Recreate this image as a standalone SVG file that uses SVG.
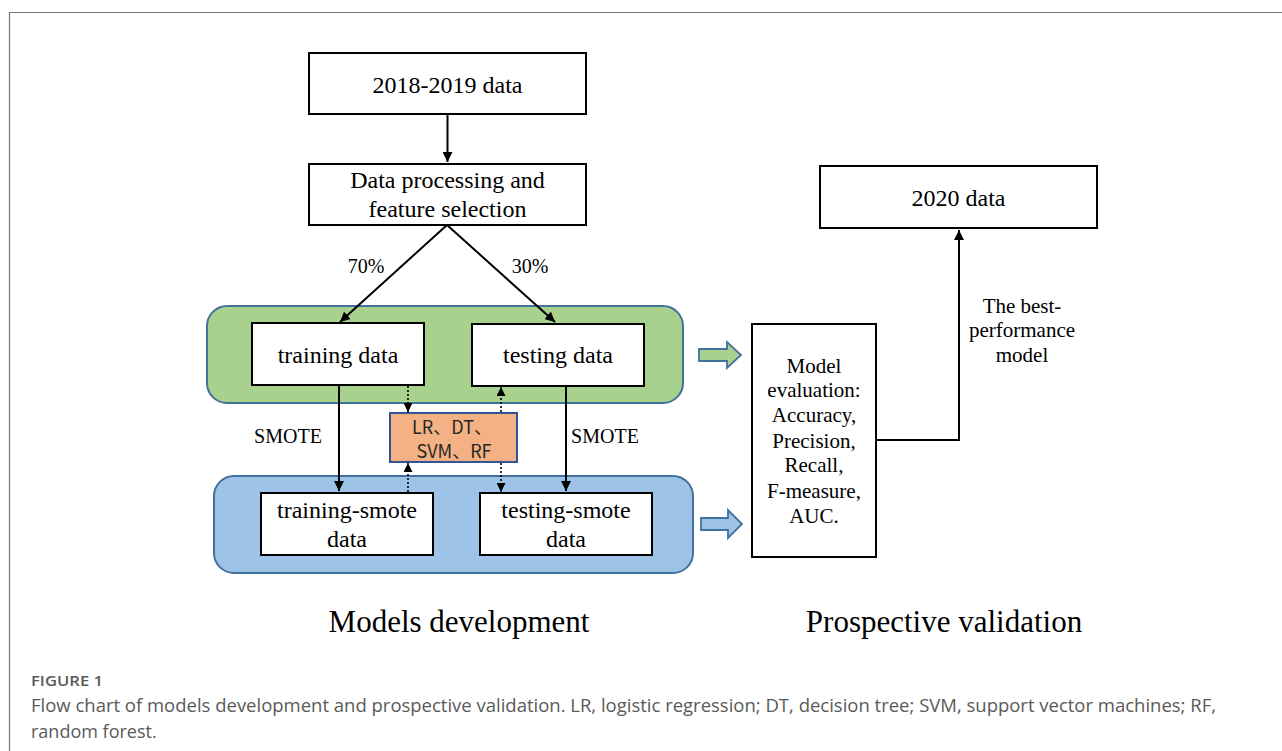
<svg xmlns="http://www.w3.org/2000/svg" width="1282" height="751" viewBox="0 0 1282 751">
  <style>
    .box { fill: #ffffff; stroke: #000000; stroke-width: 2; }
    .serif { font-family: "Liberation Serif", "Times New Roman", serif; fill: #000000; text-anchor: middle; }
    .t24 { font-size: 24px; }
    .t21 { font-size: 21px; }
    .t20 { font-size: 20px; }
    .title { font-size: 31px; }
    .line { stroke: #000000; stroke-width: 2; fill: none; }
    .dot { stroke: #000000; stroke-width: 1.6; fill: none; stroke-dasharray: 2 2; }
    .cap { font-family: "Open Sans", "Noto Sans", sans-serif; fill: #5a5a5a; }
  </style>
  <defs>
    <marker id="ah" viewBox="0 0 10 10" refX="10" refY="5" markerWidth="10" markerHeight="10" markerUnits="userSpaceOnUse" orient="auto">
      <path d="M0,0 L10,5 L0,10 z" fill="#000000"/>
    </marker>
    <marker id="ahs" viewBox="0 0 10 10" refX="10" refY="5" markerWidth="9" markerHeight="9" markerUnits="userSpaceOnUse" orient="auto">
      <path d="M0,0 L10,5 L0,10 z" fill="#000000"/>
    </marker>
  </defs>

  <rect x="0" y="0" width="1282" height="751" fill="#ffffff"/>
  <!-- page frame -->
  <path d="M9.5,751 L9.5,12.5 L1282,12.5" fill="none" stroke="#777777" stroke-width="1.2"/>

  <!-- group backgrounds -->
  <g id="training-group">
    <rect x="207" y="306" width="476" height="97" rx="20" ry="20" fill="#a9d18e" stroke="#41719c" stroke-width="2"/>
  </g>
  <g id="smote-group">
    <rect x="214" y="476" width="479" height="97" rx="20" ry="20" fill="#9dc3e6" stroke="#41719c" stroke-width="2"/>
  </g>

  <g id="data-2018-2019">
    <rect class="box" x="309" y="53" width="277" height="61"/>
    <text class="serif t24" x="447.5" y="93">2018-2019 data</text>
  </g>

  <g id="processing">
    <rect class="box" x="309" y="164" width="277" height="61"/>
    <text class="serif t24" x="447.5" y="188">Data processing and</text>
    <text class="serif t24" x="447.5" y="217">feature selection</text>
  </g>

  <g id="training-data">
    <rect class="box" x="252" y="323" width="172" height="62"/>
    <text class="serif t24" x="338" y="363">training data</text>
  </g>

  <g id="testing-data">
    <rect class="box" x="472" y="324" width="172" height="62"/>
    <text class="serif t24" x="558" y="363">testing data</text>
  </g>

  <g id="training-smote">
    <rect class="box" x="261" y="493" width="172" height="62"/>
    <text class="serif t24" x="347" y="518">training-smote</text>
    <text class="serif t24" x="347" y="547">data</text>
  </g>

  <g id="testing-smote">
    <rect class="box" x="480" y="493" width="172" height="62"/>
    <text class="serif t24" x="566" y="518">testing-smote</text>
    <text class="serif t24" x="566" y="547">data</text>
  </g>

  <g id="models">
    <rect x="390" y="413" width="127" height="49" fill="#f4b183" stroke="#2f5597" stroke-width="2"/>
    <text x="452" y="434" font-family="'Noto Sans CJK SC', 'Noto Sans', sans-serif" font-size="18" fill="#262626" text-anchor="middle">LR、DT、</text>
    <text x="454" y="458" font-family="'Noto Sans CJK SC', 'Noto Sans', sans-serif" font-size="18" fill="#262626" text-anchor="middle">SVM、RF</text>
  </g>

  <g id="evaluation">
    <rect class="box" x="752" y="324" width="124" height="233"/>
    <text class="serif t21" x="814" y="373">Model</text>
    <text class="serif t21" x="814" y="397">evaluation:</text>
    <text class="serif t21" x="814" y="422">Accuracy,</text>
    <text class="serif t21" x="814" y="448">Precision,</text>
    <text class="serif t21" x="814" y="472">Recall,</text>
    <text class="serif t21" x="814" y="498">F-measure,</text>
    <text class="serif t21" x="814" y="523">AUC.</text>
  </g>

  <g id="data-2020">
    <rect class="box" x="820" y="166" width="277" height="62"/>
    <text class="serif t24" x="958.5" y="206">2020 data</text>
  </g>

  <!-- block arrows into the evaluation step -->
  <g id="block-arrows">
    <path d="M699,349 L727,349 L727,342 L741,355 L727,368 L727,361 L699,361 Z" fill="#a9d18e" stroke="#41719c" stroke-width="1.8"/>
    <path d="M701,518 L728,518 L728,510 L742,524 L728,538 L728,530 L701,530 Z" fill="#9dc3e6" stroke="#41719c" stroke-width="1.8"/>
  </g>

  <g id="connectors">
    <line class="line" x1="447.5" y1="114" x2="447.5" y2="162" marker-end="url(#ah)"/>
    <line class="line" x1="447" y1="225" x2="340" y2="322" marker-end="url(#ah)"/>
    <line class="line" x1="447" y1="225" x2="555" y2="322" marker-end="url(#ah)"/>
    <line class="line" x1="339" y1="385" x2="339" y2="491" marker-end="url(#ah)"/>
    <line class="line" x1="566" y1="386" x2="566" y2="491" marker-end="url(#ah)"/>
    <line class="dot" x1="408" y1="386" x2="408" y2="412" marker-end="url(#ahs)"/>
    <line class="dot" x1="408" y1="492" x2="408" y2="463" marker-end="url(#ahs)"/>
    <line class="dot" x1="501" y1="412" x2="501" y2="387" marker-end="url(#ahs)"/>
    <line class="dot" x1="501" y1="463" x2="501" y2="492" marker-end="url(#ahs)"/>
    <polyline class="line" points="876,440 959,440 959,230" marker-end="url(#ah)"/>
  </g>

  <g id="labels">
    <text class="serif t20" x="366" y="273">70%</text>
    <text class="serif t20" x="530" y="273">30%</text>
    <text class="serif t20" x="288" y="443">SMOTE</text>
    <text class="serif t20" x="605" y="443">SMOTE</text>
    <text class="serif t21" x="1022" y="313">The best-</text>
    <text class="serif t21" x="1022" y="337">performance</text>
    <text class="serif t21" x="1022" y="362">model</text>
  </g>

  <g id="section-titles">
    <text class="serif title" x="459" y="632">Models development</text>
    <text class="serif title" x="944" y="632">Prospective validation</text>
  </g>

  <g id="caption">
    <text class="cap" x="31" y="686" font-size="14" font-weight="600" textLength="72" lengthAdjust="spacingAndGlyphs">FIGURE 1</text>
    <text class="cap" x="31" y="712" font-size="18" textLength="1185" lengthAdjust="spacingAndGlyphs">Flow chart of models development and prospective validation. LR, logistic regression; DT, decision tree; SVM, support vector machines; RF,</text>
    <text class="cap" x="31" y="738" font-size="18">random forest.</text>
  </g>
</svg>
